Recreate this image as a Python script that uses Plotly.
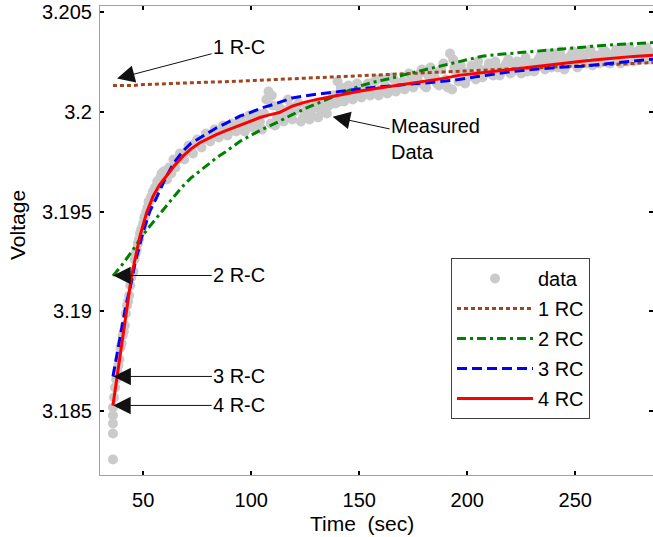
import plotly.graph_objects as go

# ---------------- data ----------------
t_data = [36, 36, 36, 36, 36, 36.5, 37, 37.5, 38, 39, 40, 41, 42, 43, 44, 45, 46, 47, 48, 49,
          50, 51, 52, 53, 54, 55, 56, 57, 58, 59, 60, 62, 64, 66, 68, 70, 72, 74, 76, 78,
          80, 82, 84, 86, 88, 90, 92, 94, 96, 98, 100, 102, 104, 106, 108, 109, 110, 112, 114, 116,
          118, 120, 122, 124, 126, 128, 130, 132, 134, 136, 138, 140, 141, 142, 144, 146, 148, 150, 152, 154,
          156, 158, 160, 162, 164, 166, 168, 170, 172, 174, 176, 178, 180, 182, 184, 186, 188, 190, 192, 193,
          194, 196, 198, 200, 202, 204, 206, 208, 210, 212, 214, 216, 218, 220, 222, 224, 226, 228, 230, 232,
          234, 236, 238, 240, 242, 244, 246, 248, 250, 252, 254, 256, 258, 260, 262, 264, 266, 268, 270, 272,
          274, 276, 278, 280, 282, 284, 286]
v_data = [3.1826, 3.1839, 3.1844, 3.1848, 3.1852, 3.1857, 3.1862, 3.1866, 3.1870, 3.1876, 3.1884, 3.1890, 3.1899, 3.1905, 3.1913, 3.1919, 3.1926, 3.1931, 3.1936, 3.1941,
          3.1944, 3.1948, 3.1952, 3.1955, 3.1958, 3.1960, 3.1962, 3.1964, 3.1967, 3.1967, 3.1970, 3.1972, 3.1976, 3.1976, 3.1978, 3.1980, 3.1981, 3.1984, 3.1985, 3.1986,
          3.1988, 3.1987, 3.1990, 3.1989, 3.1991, 3.1990, 3.1993, 3.1991, 3.1994, 3.1992, 3.1996, 3.1994, 3.1995, 3.1999, 3.2010, 3.1994, 3.2003, 3.1997, 3.2001, 3.1999,
          3.2002, 3.2000, 3.2004, 3.1997, 3.2002, 3.1998, 3.2003, 3.2001, 3.2005, 3.2003, 3.2008, 3.2015, 3.2005, 3.2009, 3.2007, 3.2011, 3.2009, 3.2012, 3.2010, 3.2014,
          3.2010, 3.2016, 3.2011, 3.2013, 3.2010, 3.2016, 3.2012, 3.2015, 3.2013, 3.2017, 3.2014, 3.2019, 3.2013, 3.2018, 3.2020, 3.2014, 3.2021, 3.2016, 3.2029, 3.2011,
          3.2022, 3.2015, 3.2020, 3.2017, 3.2023, 3.2016, 3.2021, 3.2019, 3.2024, 3.2018, 3.2022, 3.2020, 3.2024, 3.2019, 3.2023, 3.2021, 3.2025, 3.2020, 3.2024, 3.2022,
          3.2028, 3.2021, 3.2026, 3.2029, 3.2022, 3.2027, 3.2023, 3.2028, 3.2024, 3.2027, 3.2025, 3.2029, 3.2023, 3.2028, 3.2026, 3.2030, 3.2024, 3.2029, 3.2027, 3.2031,
          3.2025, 3.2030, 3.2027, 3.2031, 3.2026, 3.2030, 3.2028]

# second interleaved set of measured samples
t_data_b = [38.5, 39.5, 40.5, 41.5, 42.5, 43.5, 44.5, 45.5, 46.5, 47.5, 48.5, 49.5, 50.5, 51.5, 52.5,
            53.5, 54.5, 55.5, 56.5, 57.5, 58.5, 59.5,
            61, 63, 65, 67, 69, 71, 73, 75, 77, 79, 81, 83, 85, 87, 89, 91, 93, 95, 97, 99,
            101, 103, 105, 107, 109.5, 111, 113, 115, 117, 119, 121, 123, 125, 127, 129, 131, 133, 135, 137, 139,
            141.5, 143, 145, 147, 149, 151, 153, 155, 157, 159, 161, 163, 165, 167, 169, 171, 173, 175, 177, 179,
            181, 183, 185, 187, 189, 191, 193.5, 195, 197, 199, 201, 203, 205, 207, 209, 211, 213, 215, 217, 219,
            221, 223, 225, 227, 229, 231, 233, 235, 237, 239, 241, 243, 245, 247, 249, 251, 253, 255, 257, 259,
            261, 263, 265, 267, 269, 271, 273, 275, 277, 279, 281, 283, 285]
v_data_b = [3.1873, 3.1882, 3.1888, 3.1893, 3.1903, 3.1908, 3.1917, 3.1920, 3.1929, 3.1934, 3.1939, 3.1942, 3.1947, 3.1950, 3.1955,
            3.1957, 3.1960, 3.1962, 3.1965, 3.1966, 3.1969, 3.1970,
            3.1966, 3.1969, 3.1972, 3.1979, 3.1976, 3.1983, 3.1979, 3.1986, 3.1982, 3.1989, 3.1985, 3.1991, 3.1987, 3.1993, 3.1988, 3.1994, 3.1990, 3.1996, 3.1990, 3.1998,
            3.1992, 3.1999, 3.1991, 3.2006, 3.2008, 3.1993, 3.2002, 3.1995, 3.2006, 3.1996, 3.2003, 3.1995, 3.2000, 3.1996, 3.2002, 3.1997, 3.2003, 3.1999, 3.2006, 3.2004,
            3.2012, 3.2005, 3.2013, 3.2006, 3.2014, 3.2007, 3.2012, 3.2008, 3.2015, 3.2008, 3.2016, 3.2009, 3.2017, 3.2010, 3.2014, 3.2011, 3.2019, 3.2012, 3.2016, 3.2021,
            3.2012, 3.2022, 3.2017, 3.2013, 3.2024, 3.2012, 3.2026, 3.2019, 3.2023, 3.2014, 3.2020, 3.2018, 3.2025, 3.2017, 3.2021, 3.2020, 3.2025, 3.2018, 3.2022, 3.2026,
            3.2020, 3.2025, 3.2019, 3.2027, 3.2023, 3.2020, 3.2026, 3.2024, 3.2029, 3.2022, 3.2026, 3.2030, 3.2021, 3.2026, 3.2030, 3.2022, 3.2029, 3.2024, 3.2031, 3.2026,
            3.2024, 3.2031, 3.2027, 3.2025, 3.2031, 3.2024, 3.2029, 3.2032, 3.2025, 3.2030, 3.2028, 3.2032, 3.2026]

t_1rc = [36, 45, 50, 60, 70, 80, 90, 100, 110, 120, 130, 140, 150, 160, 170, 180, 190, 200, 210,
         220, 230, 240, 250, 260, 270, 286]
v_1rc = [3.2013, 3.2013, 3.20135, 3.2014, 3.20143, 3.20147, 3.2015, 3.20155, 3.20158, 3.20162,
         3.20168, 3.20175, 3.2018, 3.20185, 3.20188, 3.20192, 3.20197, 3.20203, 3.20208, 3.20213,
         3.20218, 3.20225, 3.2023, 3.20235, 3.20238, 3.20245]

t_2rc = [36, 40, 45.4, 49, 53.1, 57, 60.8, 64.5, 68.4, 72, 76.2, 80, 83.8, 88, 91.5, 95, 99.2, 104,
         111.5, 119, 127, 134.6, 142, 150, 157, 165.4, 173, 180.8, 188, 194.6, 200, 206.9, 214,
         222.3, 230, 237.7, 245, 253.1, 261, 268.5, 276, 286]
v_2rc = [3.19178, 3.1923, 3.1931, 3.1937, 3.19427, 3.1948, 3.19527, 3.19578, 3.19627, 3.19667,
         3.19702, 3.19737, 3.19768, 3.19798, 3.19827, 3.19852, 3.19877, 3.19905, 3.19943, 3.19985,
         3.20025, 3.2006, 3.20093, 3.20127, 3.20148, 3.20168, 3.2019, 3.2021, 3.20228, 3.20243,
         3.2026, 3.20277, 3.20285, 3.20293, 3.20302, 3.2031, 3.20317, 3.20323, 3.20329, 3.20335,
         3.20339, 3.20345]

t_3rc = [36, 38, 40, 42, 44, 46.2, 50, 53, 56.2, 60, 64, 68.4, 72, 76.2, 80, 83.8, 88, 91.5, 95,
         99.2, 104, 111.5, 119, 127, 135, 142, 150, 158, 165, 173, 181, 189, 196, 204, 212, 220,
         228, 237, 245, 253, 261, 269, 277, 286]
v_3rc = [3.18675, 3.1880, 3.1892, 3.1903, 3.1912, 3.1924, 3.1940, 3.1950, 3.1957, 3.1966, 3.1974,
         3.19802, 3.1984, 3.19868, 3.19896, 3.19918, 3.1994, 3.1996, 3.19978, 3.19993, 3.20015,
         3.2004, 3.20068, 3.20082, 3.20094, 3.20104, 3.20113, 3.20122, 3.2013, 3.20137, 3.20143,
         3.20152, 3.2016, 3.20174, 3.20188, 3.20199, 3.20209, 3.20218, 3.20223, 3.20227, 3.20235,
         3.20244, 3.20252, 3.20262]

t_4rc = [36, 38, 40, 42, 44.6, 46, 48.5, 51.6, 54.6, 57.5, 60.8, 64.5, 68.4, 72, 76.2, 80, 83.8,
         88, 91.5, 95, 99.2, 104, 108, 113, 119, 125, 131, 137, 143, 150, 157, 165, 173, 181, 189,
         196, 204, 212, 220, 228, 237, 245, 253, 261, 269, 277, 286]
v_4rc = [3.1853, 3.1868, 3.1883, 3.1898, 3.19177, 3.1925, 3.19377, 3.19495, 3.19577, 3.19632,
         3.19677, 3.1973, 3.19777, 3.19812, 3.19844, 3.19866, 3.19885, 3.19903, 3.19918, 3.19934,
         3.19952, 3.1997, 3.19982, 3.19995, 3.20027, 3.20047, 3.20062, 3.20075, 3.20088, 3.20102,
         3.20114, 3.20127, 3.20139, 3.20152, 3.20166, 3.20181, 3.20191, 3.20201, 3.20211, 3.20222,
         3.20235, 3.20244, 3.20252, 3.2026, 3.20269, 3.20276, 3.20282]

x_ticks = [50, 100, 150, 200, 250]
y_ticks = [3.185, 3.19, 3.195, 3.2, 3.205]
y_tick_text = ["3.185", "3.19", "3.195", "3.2", "3.205"]

# annotation targets (data coords) and labels
ann_labels = ["1 R-C", "2 R-C", "3 R-C", "4 R-C"]
ann_t = [37.9, 36.1, 36.2, 36.1]
ann_v = [3.20165, 3.1918, 3.18675, 3.1853]

FONT = "Arial, Liberation Sans, sans-serif"

fig = go.Figure()
fig.add_trace(go.Scatter(x=t_data + t_data_b, y=v_data + v_data_b, mode="markers", name="data",
                         marker=dict(color="#cacaca", size=10, line=dict(width=0)),
                         legendgroup="a"))
fig.add_trace(go.Scatter(x=t_1rc, y=v_1rc, mode="lines", name="1 RC",
                         line=dict(color="#a0461e", width=3, dash="4px,3px"), legendgroup="b"))
fig.add_trace(go.Scatter(x=t_2rc, y=v_2rc, mode="lines", name="2 RC",
                         line=dict(color="#008000", width=3, dash="9px,4px,3px,4px"), legendgroup="c"))
fig.add_trace(go.Scatter(x=t_3rc, y=v_3rc, mode="lines", name="3 RC",
                         line=dict(color="#0000ff", width=3, dash="10px,5px"), legendgroup="d"))
fig.add_trace(go.Scatter(x=t_4rc, y=v_4rc, mode="lines", name="4 RC",
                         line=dict(color="#ff0000", width=3), legendgroup="e"))

annotations = []
for lab, tt, vv, ax, ay in zip(ann_labels, ann_t, ann_v, [122, 126, 126, 126], [-32, 0, 0, 0]):
    annotations.append(dict(x=tt, y=vv, xref="x", yref="y", text=lab, showarrow=True,
                            ax=ax, ay=ay, arrowhead=2, arrowsize=3.5, arrowwidth=1,
                            arrowcolor="#111111", font=dict(size=20, color="black", family=FONT)))
annotations.append(dict(x=137.7, y=3.19974, xref="x", yref="y", text="Measured<br>Data",
                        align="left", showarrow=True, ax=103, ay=22, arrowhead=2, arrowsize=3.5,
                        arrowwidth=1, arrowcolor="#111111",
                        font=dict(size=20, color="black", family=FONT)))
# axis titles
annotations.append(dict(text="Time  (sec)", xref="paper", yref="paper", x=(361.7 - 100) / 553,
                        y=-(523 - 475) / 469, showarrow=False, xanchor="center", yanchor="middle",
                        font=dict(size=21, color="black", family=FONT)))
annotations.append(dict(text="Voltage", xref="paper", yref="paper", x=(17 - 100) / 553,
                        y=1 - (225 - 6) / 469, showarrow=False, textangle=-90,
                        xanchor="center", yanchor="middle",
                        font=dict(size=21, color="black", family=FONT)))

axis_common = dict(showgrid=False, zeroline=False, showline=True, linecolor="#a0a0a0",
                   linewidth=1, mirror="ticks", ticks="inside", ticklen=4, tickwidth=1.5,
                   tickcolor="black", tickfont=dict(size=20, color="black", family=FONT))

fig.update_layout(
    width=653, height=537,
    margin=dict(l=100, r=0, t=6, b=62),
    plot_bgcolor="white", paper_bgcolor="white",
    font=dict(family=FONT, size=20, color="black"),
    xaxis=dict(range=[30, 286], tickvals=x_ticks, ticklabelstandoff=7, **axis_common),
    yaxis=dict(range=[3.18182, 3.20528], tickvals=y_ticks, ticktext=y_tick_text,
               ticklabelstandoff=3, **axis_common),
    legend=dict(x=(451 - 100) / 553, y=1 - (258 - 6) / 469, xanchor="left", yanchor="top",
                bordercolor="#404040", borderwidth=1, bgcolor="white",
                font=dict(size=20, color="black", family=FONT), itemwidth=76,
                tracegroupgap=1, traceorder="grouped"),
    annotations=annotations,
    showlegend=True,
)

fig.write_html("out.html")
